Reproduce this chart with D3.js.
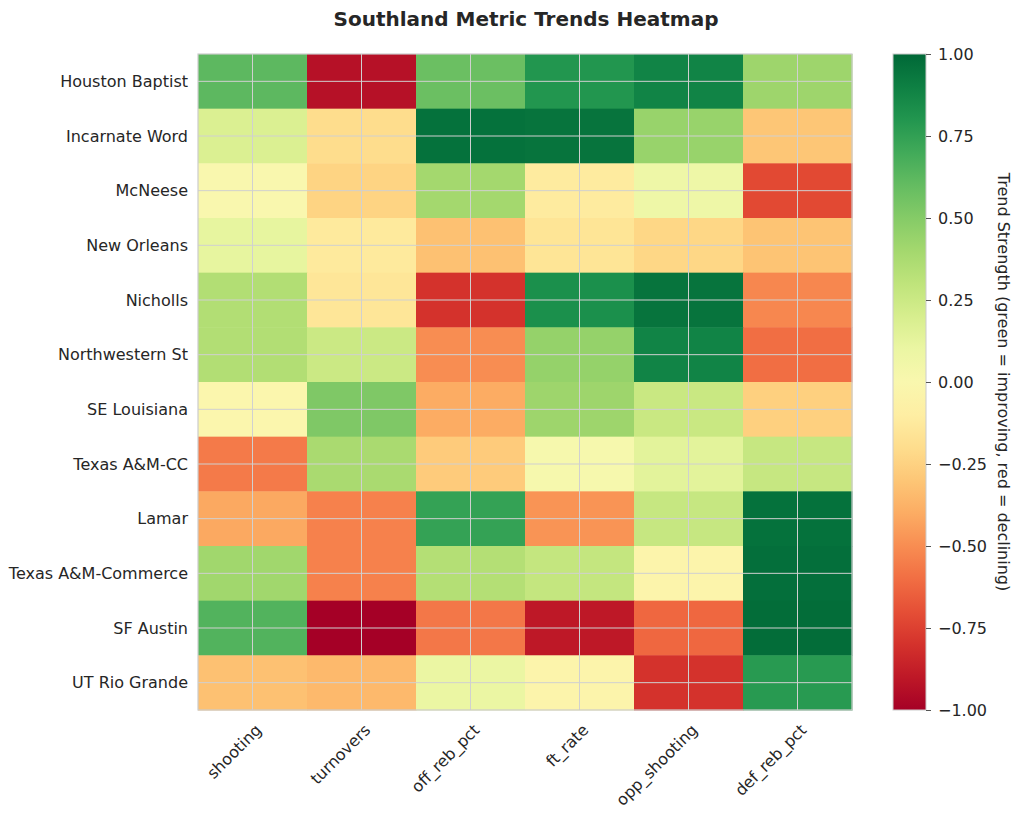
<!DOCTYPE html>
<html>
<head>
<meta charset="utf-8">
<script src="https://cdn.jsdelivr.net/npm/d3@7"></script>
<style>
  body { margin: 0; background: #fff; }
  text { font-family: "DejaVu Sans", sans-serif; fill: #262626; }
</style>
</head>
<body>
<svg id="chart"></svg>
<script>
var viewWidth = 1024;
var viewHeight = 817;

// data
var teams = ["Houston Baptist", "Incarnate Word", "McNeese", "New Orleans", "Nicholls",
  "Northwestern St", "SE Louisiana", "Texas A&M-CC", "Lamar", "Texas A&M-Commerce",
  "SF Austin", "UT Rio Grande"];
var metrics = ["shooting", "turnovers", "off_reb_pct", "ft_rate", "opp_shooting", "def_reb_pct"];
var trendValues = [
  [0.62, -0.93, 0.58, 0.80, 0.88, 0.42],
  [0.18, -0.20, 0.96, 0.95, 0.44, -0.30],
  [-0.01, -0.24, 0.40, -0.12, 0.08, -0.72],
  [0.12, -0.13, -0.32, -0.16, -0.23, -0.31],
  [0.35, -0.15, -0.80, 0.83, 0.95, -0.52],
  [0.35, 0.25, -0.50, 0.45, 0.88, -0.60],
  [-0.03, 0.52, -0.40, 0.42, 0.26, -0.26],
  [-0.56, 0.38, -0.28, 0.02, 0.14, 0.27],
  [-0.41, -0.54, 0.74, -0.48, 0.27, 0.96],
  [0.41, -0.54, 0.34, 0.28, -0.05, 0.97],
  [0.65, -1.00, -0.57, -0.90, -0.62, 0.98],
  [-0.32, -0.35, 0.10, -0.05, -0.80, 0.78]
];
var colorTicks = [-1, -0.75, -0.5, -0.25, 0, 0.25, 0.5, 0.75, 1];

var margin = {top: 54, left: 198};
var width = 654;
var height = 656;

var svg = d3.select("#chart")
    .attr("width", viewWidth)
    .attr("height", viewHeight);

svg.append("text")
    .attr("x", 526)
    .attr("y", 26)
    .attr("text-anchor", "middle")
    .style("font-size", "20px")
    .style("font-weight", "bold")
    .text("Southland Metric Trends Heatmap");

var g = svg.append("g")
    .attr("transform", "translate(" + margin.left + "," + margin.top + ")");

var x = d3.scaleBand().domain(metrics).range([0, width]);
var y = d3.scaleBand().domain(teams).range([0, height]);
var color = d3.scaleSequential(d3.interpolateRdYlGn).domain([-1, 1]);

var cells = [];
trendValues.forEach(function(row, i) {
  row.forEach(function(v, j) {
    cells.push({team: teams[i], metric: metrics[j], value: v});
  });
});

g.selectAll(".cell")
    .data(cells)
  .enter().append("rect")
    .attr("class", "cell")
    .attr("x", function(d) { return x(d.metric); })
    .attr("y", function(d) { return y(d.team); })
    .attr("width", x.bandwidth() + 0.5)
    .attr("height", y.bandwidth() + 0.5)
    .style("fill", function(d) { return color(d.value); });

// grid lines through cell centres
g.selectAll(".vgrid")
    .data(metrics)
  .enter().append("line")
    .attr("x1", function(d) { return x(d) + x.bandwidth() / 2; })
    .attr("x2", function(d) { return x(d) + x.bandwidth() / 2; })
    .attr("y1", 0)
    .attr("y2", height)
    .style("stroke", "#d0d0d0")
    .style("stroke-width", 1);

g.selectAll(".hgrid")
    .data(teams)
  .enter().append("line")
    .attr("y1", function(d) { return y(d) + y.bandwidth() / 2; })
    .attr("y2", function(d) { return y(d) + y.bandwidth() / 2; })
    .attr("x1", 0)
    .attr("x2", width)
    .style("stroke", "#d0d0d0")
    .style("stroke-width", 1);

g.append("rect")
    .attr("width", width)
    .attr("height", height)
    .style("fill", "none")
    .style("stroke", "#cccccc")
    .style("stroke-width", 1.2);

var yAxis = g.append("g")
    .call(d3.axisLeft(y).tickSize(0).tickPadding(10));
yAxis.select(".domain").remove();
yAxis.selectAll("text")
    .style("font-size", "16px")
    .attr("dy", "0.35em");

var xAxis = g.append("g")
    .attr("transform", "translate(0," + height + ")")
    .call(d3.axisBottom(x).tickSize(0).tickPadding(0));
xAxis.select(".domain").remove();
xAxis.selectAll("text")
    .style("font-size", "16px")
    .style("text-anchor", "end")
    .attr("dy", null)
    .attr("y", null)
    .attr("transform", "translate(10,21) rotate(-45)");

// colour bar
var cbX = 893, cbW = 33;
var cbScale = d3.scaleLinear().domain([-1, 1]).range([margin.top + height, margin.top]);

var defs = svg.append("defs");
var grad = defs.append("linearGradient")
    .attr("id", "cbgrad")
    .attr("x1", "0%").attr("x2", "0%")
    .attr("y1", "100%").attr("y2", "0%");
d3.range(0, 1.001, 0.05).forEach(function(t) {
  grad.append("stop")
      .attr("offset", (t * 100) + "%")
      .attr("stop-color", d3.interpolateRdYlGn(t));
});

svg.append("rect")
    .attr("x", cbX)
    .attr("y", margin.top)
    .attr("width", cbW)
    .attr("height", height)
    .style("fill", "url(#cbgrad)")
    .style("stroke", "#cccccc")
    .style("stroke-width", 1);

var cbAxis = svg.append("g")
    .attr("transform", "translate(" + (cbX + cbW) + ",0)")
    .call(d3.axisRight(cbScale).tickValues(colorTicks).tickSize(5).tickPadding(7)
      .tickFormat(function(d) { return d3.format(".2f")(d).replace("-", "\u2212"); }));
cbAxis.select(".domain").remove();
cbAxis.selectAll("line").style("stroke", "#555");
cbAxis.selectAll("text").style("font-size", "16px");

svg.append("text")
    .attr("transform", "translate(998," + (margin.top + height / 2) + ") rotate(90)")
    .attr("text-anchor", "middle")
    .style("font-size", "16px")
    .text("Trend Strength (green = improving, red = declining)");
</script>
</body>
</html>
